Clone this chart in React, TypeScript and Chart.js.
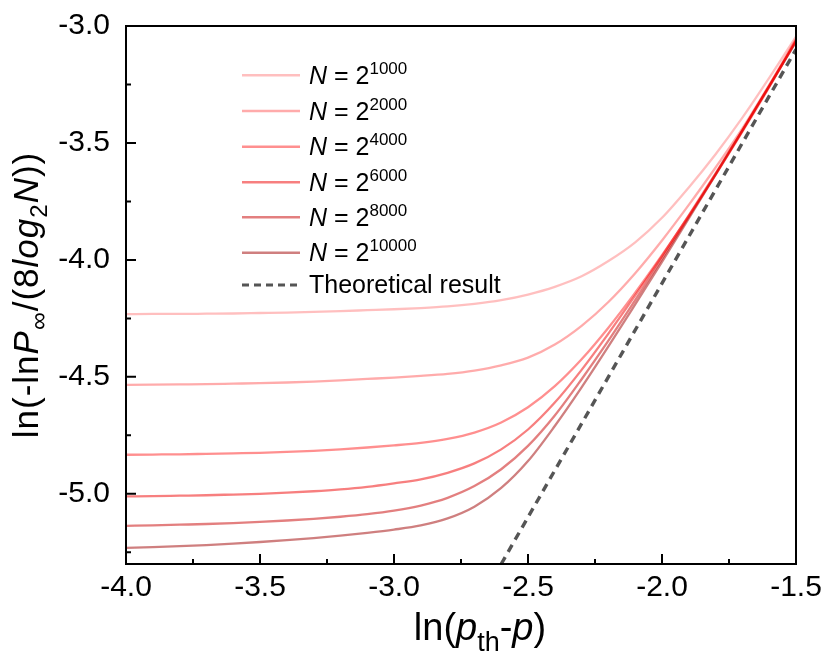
import React, { useEffect, useRef } from "react";
import { Chart, registerables } from "chart.js";
Chart.register(...registerables);

const xValues = [-4.0, -3.9, -3.8, -3.7, -3.6, -3.5, -3.4, -3.3, -3.2, -3.1, -3.0, -2.9, -2.8, -2.7, -2.6, -2.5, -2.4, -2.3, -2.2, -2.1, -2.0, -1.9, -1.8, -1.7, -1.6, -1.5];
const seriesN1000 = [-4.232, -4.231, -4.231, -4.230, -4.229, -4.227, -4.225, -4.222, -4.219, -4.215, -4.211, -4.206, -4.199, -4.188, -4.172, -4.148, -4.115, -4.070, -4.005, -3.925, -3.820, -3.690, -3.548, -3.392, -3.222, -3.045];
const seriesN2000 = [-4.534, -4.533, -4.532, -4.531, -4.529, -4.527, -4.524, -4.520, -4.515, -4.509, -4.503, -4.496, -4.487, -4.473, -4.451, -4.418, -4.362, -4.282, -4.180, -4.057, -3.917, -3.765, -3.605, -3.438, -3.252, -3.055];
const seriesN4000 = [-4.833, -4.832, -4.831, -4.829, -4.827, -4.825, -4.821, -4.816, -4.810, -4.802, -4.793, -4.782, -4.765, -4.738, -4.695, -4.630, -4.540, -4.425, -4.290, -4.140, -3.980, -3.812, -3.636, -3.452, -3.262, -3.060];
const seriesN6000 = [-5.011, -5.010, -5.008, -5.006, -5.003, -5.000, -4.995, -4.989, -4.981, -4.970, -4.955, -4.938, -4.910, -4.870, -4.810, -4.725, -4.610, -4.470, -4.315, -4.152, -3.984, -3.810, -3.630, -3.445, -3.256, -3.062];
const seriesN8000 = [-5.137, -5.135, -5.132, -5.129, -5.125, -5.120, -5.114, -5.107, -5.098, -5.087, -5.072, -5.050, -5.017, -4.967, -4.895, -4.795, -4.665, -4.510, -4.345, -4.172, -3.996, -3.816, -3.633, -3.447, -3.258, -3.066];
const seriesN10000 = [-5.231, -5.228, -5.224, -5.219, -5.213, -5.206, -5.198, -5.189, -5.179, -5.167, -5.153, -5.135, -5.105, -5.055, -4.975, -4.860, -4.710, -4.545, -4.370, -4.190, -4.008, -3.823, -3.636, -3.447, -3.257, -3.068];
const theoryX = [-2.6, -1.5];
const theoryY = [-5.3, -3.1];

const exponents = ["1000", "2000", "4000", "6000", "8000", "10000"];
const theoryLabel = "Theoretical result";
const xTicks = [-4.0, -3.5, -3.0, -2.5, -2.0, -1.5];
const xMinorTicks = [-3.75, -3.25, -2.75, -2.25, -1.75];
const yTicks = [-5.0, -4.5, -4.0, -3.5, -3.0];
const yMinorTicks = [-5.25, -4.75, -4.25, -3.75, -3.25];

const allSeries = [seriesN1000, seriesN2000, seriesN4000, seriesN6000, seriesN8000, seriesN10000];
const lineColors = [
  "rgba(255,0,0,0.25)",
  "rgba(255,0,0,0.33)",
  "rgba(255,0,0,0.44)",
  "rgba(240,0,0,0.50)",
  "rgba(200,0,0,0.50)",
  "rgba(160,0,0,0.50)",
];
const theoryColor = "#555555";
const FONT = '"Liberation Sans", Arial, Helvetica, sans-serif';

type Seg = { t: string; size: number; italic?: boolean; dy?: number };

function segWidth(ctx: CanvasRenderingContext2D, segs: Seg[]) {
  let w = 0;
  for (const s of segs) {
    ctx.font = `${s.italic ? "italic " : ""}${s.size}px ${FONT}`;
    w += ctx.measureText(s.t).width;
  }
  return w;
}
function drawSegs(ctx: CanvasRenderingContext2D, x: number, y: number, segs: Seg[]) {
  for (const s of segs) {
    ctx.font = `${s.italic ? "italic " : ""}${s.size}px ${FONT}`;
    ctx.fillText(s.t, x, y + (s.dy || 0));
    x += ctx.measureText(s.t).width;
  }
  return x;
}

const decorPlugin = {
  id: "decor",
  afterDraw(chart: any) {
    const ctx: CanvasRenderingContext2D = chart.ctx;
    const { left, right, top, bottom } = chart.chartArea;
    const xs = chart.scales.x;
    const ys = chart.scales.y;
    ctx.save();
    ctx.strokeStyle = "#000";
    ctx.lineWidth = 2;
    ctx.strokeRect(left, top, right - left, bottom - top);
    ctx.beginPath();
    for (const v of xTicks) {
      const p = xs.getPixelForValue(v);
      ctx.moveTo(p, bottom);
      ctx.lineTo(p, bottom - 10);
    }
    for (const v of xMinorTicks) {
      const p = xs.getPixelForValue(v);
      ctx.moveTo(p, bottom);
      ctx.lineTo(p, bottom - 5);
    }
    for (const v of yTicks) {
      const p = ys.getPixelForValue(v);
      ctx.moveTo(left, p);
      ctx.lineTo(left + 10, p);
    }
    for (const v of yMinorTicks) {
      const p = ys.getPixelForValue(v);
      ctx.moveTo(left, p);
      ctx.lineTo(left + 5, p);
    }
    ctx.stroke();

    // legend
    ctx.fillStyle = "#000";
    ctx.textBaseline = "alphabetic";
    ctx.textAlign = "left";
    const rowY = [67.3, 103, 138.7, 174.3, 209.3, 244.7, 277];
    const lx0 = 234, lx1 = 292, tx = 301;
    exponents.forEach((e, i) => {
      ctx.strokeStyle = lineColors[i];
      ctx.lineWidth = 2.5;
      ctx.setLineDash([]);
      ctx.beginPath();
      ctx.moveTo(lx0, rowY[i]);
      ctx.lineTo(lx1, rowY[i]);
      ctx.stroke();
      drawSegs(ctx, tx, rowY[i] + 8.5, [
        { t: "N", size: 25, italic: true },
        { t: " = 2", size: 25 },
        { t: e, size: 17, dy: -10 },
      ]);
    });
    ctx.strokeStyle = theoryColor;
    ctx.lineWidth = 3.2;
    ctx.setLineDash([7, 5]);
    ctx.beginPath();
    ctx.moveTo(lx0, rowY[6]);
    ctx.lineTo(lx1, rowY[6]);
    ctx.stroke();
    ctx.setLineDash([]);
    ctx.font = `25px ${FONT}`;
    ctx.fillText(theoryLabel, tx, rowY[6] + 7.7);

    // x title
    const xt: Seg[] = [
      { t: "ln(", size: 38 },
      { t: "p", size: 38, italic: true },
      { t: "th", size: 27, dy: 11 },
      { t: "-", size: 38 },
      { t: "p", size: 38, italic: true },
      { t: ")", size: 38 },
    ];
    const xw = segWidth(ctx, xt);
    drawSegs(ctx, 472 - xw / 2, 632, xt);

    // y title
    (ctx as any).letterSpacing = "1px";
    const yt: Seg[] = [
      { t: "ln(-ln", size: 35 },
      { t: "P", size: 35, italic: true },
      { t: "\u221E", size: 25, dy: 9 },
      { t: "/(8", size: 35 },
      { t: "log", size: 35, italic: true },
      { t: "2", size: 24, dy: 9 },
      { t: "N", size: 35, italic: true },
      { t: "))", size: 35 },
    ];
    const yw = segWidth(ctx, yt);
    ctx.translate(30, (top + bottom) / 2);
    ctx.rotate(-Math.PI / 2);
    drawSegs(ctx, -yw / 2, 0, yt);
    ctx.restore();
  },
};

export default function App() {
  const ref = useRef<HTMLCanvasElement | null>(null);
  useEffect(() => {
    if (!ref.current) return;
    const datasets: any[] = allSeries.map((s, i) => ({
      label: "N = 2^" + exponents[i],
      data: xValues.map((x, j) => ({ x, y: s[j] })),
      borderColor: lineColors[i],
      borderWidth: 2.3,
      pointRadius: 0,
      fill: false,
      cubicInterpolationMode: "monotone",
    }));
    datasets.push({
      label: theoryLabel,
      data: theoryX.map((x, j) => ({ x, y: theoryY[j] })),
      borderColor: theoryColor,
      borderWidth: 3.4,
      borderDash: [8, 6],
      pointRadius: 0,
      fill: false,
    });
    const chart = new Chart(ref.current, {
      type: "line",
      data: { datasets },
      options: {
        animation: false,
        responsive: false,
        layout: { padding: { left: 0, top: 18, right: 26, bottom: 0 } },
        plugins: { legend: { display: false }, tooltip: { enabled: false } },
        scales: {
          x: {
            type: "linear",
            min: -4.0,
            max: -1.5,
            grid: { display: false, drawTicks: false },
            border: { display: false },
            afterBuildTicks: (scale: any) => {
              scale.ticks = xTicks.map((v) => ({ value: v }));
            },
            afterFit: (scale: any) => {
              scale.height = 91;
              scale.paddingLeft = 0;
              scale.paddingRight = 0;
            },
            ticks: {
              padding: 6,
              maxRotation: 0,
              color: "#000",
              font: { size: 30, family: FONT },
              callback: (v: any) => Number(v).toFixed(1),
            },
          },
          y: {
            type: "linear",
            min: -5.3,
            max: -3.0,
            grid: { display: false, drawTicks: false },
            border: { display: false },
            afterBuildTicks: (scale: any) => {
              scale.ticks = yTicks.map((v) => ({ value: v }));
            },
            afterFit: (scale: any) => {
              scale.width = 118;
              scale.paddingTop = 0;
              scale.paddingBottom = 0;
            },
            ticks: {
              padding: 16,
              color: "#000",
              font: { size: 30, family: FONT },
              callback: (v: any) => Number(v).toFixed(1),
            },
          },
        },
      },
      plugins: [decorPlugin],
    });
    return () => chart.destroy();
  }, []);
  return (
    <div style={{ width: 814, height: 647 }}>
      <canvas ref={ref} width={814} height={647} style={{ display: "block" }} />
    </div>
  );
}
